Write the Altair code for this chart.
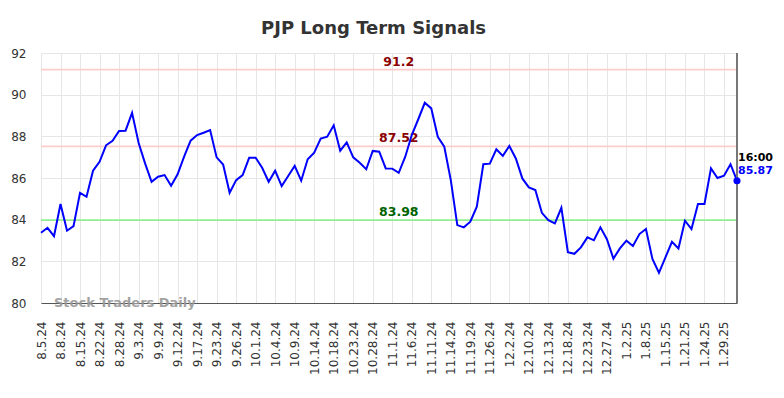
import altair as alt
import pandas as pd

values = [
    83.37, 83.61, 83.21, 84.75, 83.47, 83.69, 85.29, 85.10, 86.35, 86.78,
    87.57, 87.79, 88.26, 88.27, 89.13, 87.69, 86.70, 85.82, 86.06, 86.14,
    85.63, 86.18, 87.03, 87.79, 88.06, 88.17, 88.30, 86.99, 86.65, 85.29,
    85.90, 86.14, 86.97, 86.97, 86.49, 85.82, 86.35, 85.61, 86.10, 86.58,
    85.87, 86.90, 87.21, 87.89, 87.98, 88.53, 87.31, 87.71, 86.99, 86.73,
    86.42, 87.30, 87.26, 86.46, 86.45, 86.25, 87.02, 88.06, 88.82, 89.61,
    89.34, 87.98, 87.50, 85.90, 83.74, 83.63, 83.90, 84.62, 86.66, 86.69,
    87.38, 87.06, 87.54, 86.94, 85.98, 85.55, 85.42, 84.33, 83.98, 83.82,
    84.57, 82.44, 82.36, 82.67, 83.15, 83.01, 83.63, 83.06, 82.13, 82.62,
    82.99, 82.74, 83.31, 83.55, 82.11, 81.45, 82.19, 82.94, 82.62, 83.95,
    83.55, 84.75, 84.75, 86.46, 86.00, 86.11, 86.66, 85.87,
]

tick_labels = [
    "8.5.24", "8.8.24", "8.15.24", "8.22.24", "8.28.24", "9.3.24", "9.9.24",
    "9.12.24", "9.17.24", "9.23.24", "9.26.24", "10.1.24", "10.4.24", "10.9.24",
    "10.14.24", "10.18.24", "10.23.24", "10.28.24", "11.1.24", "11.6.24",
    "11.11.24", "11.14.24", "11.19.24", "11.26.24", "12.2.24", "12.10.24",
    "12.13.24", "12.18.24", "12.23.24", "12.27.24", "1.2.25", "1.8.25",
    "1.15.25", "1.21.25", "1.24.25", "1.29.25",
]

level_values = [91.2, 87.52, 83.98]
level_text = ["91.2", "87.52", "83.98"]
level_line_colors = ["#ffcccc", "#ffcccc", "#90ee90"]
level_text_colors = ["#8b0000", "#8b0000", "#006400"]
level_label_pos = 55

last_time = "16:00"

n = len(values)
df = pd.DataFrame({"i": list(range(n)), "v": values})
last = df.iloc[[-1]].copy()
last["t"] = last_time
last["vs"] = f"{values[-1]:.2f}"
levels = pd.DataFrame({
    "y": level_values, "txt": level_text,
    "lc": level_line_colors, "tc": level_text_colors,
    "x": [level_label_pos] * 3,
})

label_js = "[" + ",".join(f"'{s}'" for s in tick_labels) + "]"
tick_vals = [3 * k for k in range(len(tick_labels))]

xscale = alt.Scale(domain=[0, n - 1], nice=False, zero=False)
yscale = alt.Scale(domain=[80, 92], nice=False, zero=False)

x_axis = alt.Axis(
    values=tick_vals, tickCount=60, labelExpr=f"{label_js}[round(datum.value/3)]",
    labelAngle=270, labelFontSize=12, labelColor="#333333", labelPadding=18,
    ticks=False, grid=True, gridColor="#e6e6e6", domain=True,
    domainColor="#555555", domainWidth=1, title=None, labelOverlap=False,
)
y_axis = alt.Axis(
    values=[80, 82, 84, 86, 88, 90, 92], labelFontSize=12, labelColor="#333333",
    labelPadding=15, ticks=False, grid=True, gridColor="#e6e6e6",
    domain=False, title=None,
)

base = alt.Chart(df)

grid_layer = base.mark_line(opacity=0).encode(
    x=alt.X("i:Q", scale=xscale, axis=x_axis),
    y=alt.Y("v:Q", scale=yscale, axis=y_axis),
)

level_lines = alt.Chart(levels).mark_rule(strokeWidth=1.6).encode(
    y=alt.Y("y:Q", scale=yscale),
    color=alt.Color("lc:N", scale=None),
)

level_labels = alt.Chart(levels).mark_text(
    fontWeight="bold", fontSize=12.5, baseline="alphabetic", dy=-4, align="center"
).encode(
    x=alt.X("x:Q", scale=xscale),
    y=alt.Y("y:Q", scale=yscale),
    text="txt:N",
    color=alt.Color("tc:N", scale=None),
)

line = base.mark_line(color="#0000ff", strokeWidth=2).encode(
    x=alt.X("i:Q", scale=xscale),
    y=alt.Y("v:Q", scale=yscale),
)

right_border = alt.Chart(last).mark_rule(color="#777777", strokeWidth=2).encode(
    x=alt.X("i:Q", scale=xscale),
)

point = alt.Chart(last).mark_point(filled=True, size=50, color="#0000ff", opacity=1).encode(
    x=alt.X("i:Q", scale=xscale),
    y=alt.Y("v:Q", scale=yscale),
)

time_label = alt.Chart(last).mark_text(
    align="left", baseline="alphabetic", dx=1, dy=-20, fontSize=11,
    fontWeight="bold", color="#000000",
).encode(x=alt.X("i:Q", scale=xscale), y=alt.Y("v:Q", scale=yscale), text="t:N")

value_label = alt.Chart(last).mark_text(
    align="left", baseline="alphabetic", dx=1, dy=-7, fontSize=11,
    fontWeight="bold", color="#0000ff",
).encode(x=alt.X("i:Q", scale=xscale), y=alt.Y("v:Q", scale=yscale), text="vs:N")

watermark = alt.Chart(last).mark_text(
    align="left", baseline="alphabetic", fontSize=13, fontWeight="bold",
    color="#999999", opacity=0.9, dy=4,
).encode(
    x=alt.value(13),
    y=alt.datum(80, scale=yscale),
    text=alt.value("Stock Traders Daily"),
)

chart = alt.layer(
    grid_layer, level_lines, level_labels, line, right_border, point,
    time_label, value_label, watermark,
).properties(
    width=696, height=250,
    autosize=alt.AutoSizeParams(type="none"),
    padding={"left": 33, "top": 45, "right": 39, "bottom": 87},
    title=alt.TitleParams(
        "PJP Long Term Signals", anchor="start", frame="group", dx=220,
        offset=9, fontSize=18, fontWeight="bold", color="#333333",
        font="DejaVu Sans",
    ),
).configure(font="DejaVu Sans").configure_view(stroke=None)

chart.save("out.html", embed_options={"renderer": "svg", "actions": False})
